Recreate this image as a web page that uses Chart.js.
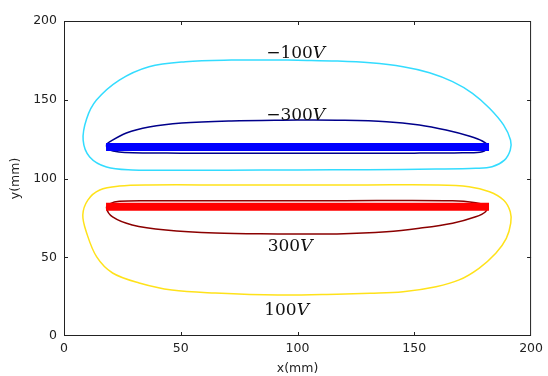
<!DOCTYPE html>
<html>
<head>
<meta charset="utf-8">
<script src="https://cdn.jsdelivr.net/npm/chart.js@4.4.1/dist/chart.umd.min.js"></script>
<style>
  html, body { margin: 0; padding: 0; background: #fff; }
  #wrap { width: 548px; height: 376px; }
</style>
</head>
<body>
<div id="wrap"><canvas id="fieldChart"></canvas></div>
<script>
// axis ticks
var xTicks = [0, 50, 100, 150, 200];
var yTicks = [0, 50, 100, 150, 200];

// electrodes (plates)
var plateX = [18, 182];
var bluePlateY = [120, 120];
var redPlateY = [82, 82];

// equipotential -100V
var m100X = [100, 91.5, 71.6, 52, 36.4, 23.7, 13.9, 9.7, 8.2, 11, 18.2, 29.2, 45, 70, 100, 130, 159.3, 176.3, 183.3, 188.6, 191.1, 191.2, 188.2, 182.2, 174.9, 166.4, 156.5, 145.2, 131.1, 116.9, 100];
var m100Y = [175.1, 175.2, 175.2, 174.2, 171.0, 162.5, 149.8, 138, 124.4, 113.7, 107.3, 105.4, 105.3, 105.3, 105.4, 105.6, 106.0, 106.5, 107.5, 111.7, 118.1, 124.4, 134.0, 144.6, 154.1, 161.5, 167.2, 171.0, 173.5, 174.6, 175.1];

// equipotential -300V
var m300X = [100, 71.6, 50.4, 36.4, 26.7, 19.5, 18.2, 18.8, 21, 26, 50, 80, 116.9, 150, 170.6, 179.1, 181.7, 179.1, 173.4, 163.6, 152.2, 138.1, 116.9, 100];
var m300Y = [137.1, 136.5, 135.2, 132.7, 128.9, 123.2, 121.3, 119, 117.5, 116.5, 116.1, 116.0, 116.0, 116.1, 116.4, 117.0, 120.2, 123.8, 127.0, 130.8, 134.0, 136.1, 137.0, 137.1];

// equipotential 100V
var p100X = [100, 70, 36.4, 23.7, 15.3, 10.2, 8.05, 9.7, 14, 20.8, 32.2, 46.2, 64.8, 91.5, 116.9, 131.1, 145.2, 159.3, 169.2, 177.7, 184.9, 189.4, 191.3, 191.1, 188.2, 182.2, 173.4, 159.3, 130, 100];
var p100Y = [95.9, 95.9, 95.9, 95.2, 92.7, 86.3, 76.8, 65.4, 50.2, 40, 33.7, 29.2, 27.3, 26.0, 26.5, 27.1, 28.1, 31.3, 35.6, 43.0, 52.5, 62.0, 71.6, 78.9, 86.3, 91.6, 94.8, 95.9, 95.9, 95.9];

// equipotential 300V
var p300X = [100, 91.5, 64.8, 43.6, 29.2, 20.8, 18.2, 19.8, 23.7, 35, 70, 116.9, 166.4, 176.3, 181.2, 180.5, 176.3, 166.4, 152.2, 138.1, 116.9, 100];
var p300Y = [64.8, 64.8, 65.4, 67.3, 70.5, 75.6, 81.3, 84, 85.5, 85.9, 85.9, 85.9, 85.9, 84.6, 82.5, 78.9, 75.7, 71.6, 68.4, 66.2, 64.8, 64.8];

// contour labels
var levelText = ['\u2212100', '\u2212300', '300', '100'];
var levelX = [99.2, 99.2, 96.8, 95.3];
var levelY = [176.5, 137.1, 54.2, 13.3];

function pts(xs, ys) {
    return xs.map(function (v, i) { return {x: v, y: ys[i]}; });
}

function contour(xs, ys, color) {
    return {
        data: pts(xs, ys),
        showLine: true,
        borderColor: color,
        borderWidth: 1.5,
        pointRadius: 0,
        tension: 0.35,
        fill: false
    };
}

function plate(ys, color) {
    return {
        data: pts(plateX, ys),
        showLine: true,
        borderColor: color,
        borderWidth: 8,
        borderCapStyle: 'butt',
        pointRadius: 0,
        tension: 0,
        fill: false
    };
}

var frameAndLabels = {
    id: 'frameAndLabels',
    afterDatasetsDraw: function (chart) {
        var ctx = chart.ctx;
        var a = chart.chartArea;
        var sx = chart.scales.x, sy = chart.scales.y;
        ctx.save();
        ctx.strokeStyle = '#222';
        ctx.lineWidth = 1;
        ctx.strokeRect(a.left + 0.5, a.top + 0.5, a.right - a.left - 1, a.bottom - a.top - 1);
        // inward ticks on all sides
        ctx.beginPath();
        xTicks.slice(1, -1).forEach(function (v) {
            var px = Math.round(sx.getPixelForValue(v)) + 0.5;
            ctx.moveTo(px, a.bottom); ctx.lineTo(px, a.bottom - 4);
            ctx.moveTo(px, a.top); ctx.lineTo(px, a.top + 4);
        });
        yTicks.slice(1, -1).forEach(function (v) {
            var py = Math.round(sy.getPixelForValue(v)) + 0.5;
            ctx.moveTo(a.left, py); ctx.lineTo(a.left + 4, py);
            ctx.moveTo(a.right, py); ctx.lineTo(a.right - 4, py);
        });
        ctx.stroke();

        // level labels: number upright, V italic
        ctx.fillStyle = '#111';
        ctx.textBaseline = 'alphabetic';
        ctx.textAlign = 'left';
        levelText.forEach(function (t, i) {
            var upright = '17px "DejaVu Serif"';
            var italic = 'italic 17px "DejaVu Serif"';
            ctx.font = upright;
            var w1 = ctx.measureText(t).width;
            ctx.font = italic;
            var w2 = ctx.measureText('V').width;
            var cx = sx.getPixelForValue(levelX[i]);
            var by = sy.getPixelForValue(levelY[i]);
            var x0 = cx - (w1 + w2) / 2;
            ctx.font = upright;
            ctx.fillText(t, x0, by);
            ctx.font = italic;
            ctx.fillText('V', x0 + w1, by);
        });
        ctx.restore();
    }
};

var tickFont = {family: 'DejaVu Sans', size: 12.5};

new Chart(document.getElementById('fieldChart'), {
    type: 'scatter',
    data: {
        datasets: [
            plate(bluePlateY, '#0000ff'),
            plate(redPlateY, '#ff0000'),
            contour(m300X, m300Y, '#00008b'),
            contour(m100X, m100Y, '#33dcff'),
            contour(p100X, p100Y, '#ffe21a'),
            contour(p300X, p300Y, '#8b0000')
        ]
    },
    options: {
        responsive: true,
        maintainAspectRatio: false,
        animation: false,
        layout: {padding: {left: 0, right: 12, top: 21, bottom: 0}},
        plugins: {legend: {display: false}, tooltip: {enabled: false}},
        scales: {
            x: {
                type: 'linear',
                min: 0, max: 200,
                afterFit: function (s) { s.height = 40; },
                afterBuildTicks: function (s) { s.ticks = xTicks.map(function (v) { return {value: v}; }); },
                grid: {display: false, drawTicks: false},
                border: {display: false},
                ticks: {font: tickFont, color: '#222', padding: 5, maxRotation: 0},
                title: {display: true, text: 'x(mm)', font: tickFont, color: '#222', padding: {top: -3, bottom: 0}}
            },
            y: {
                type: 'linear',
                min: 0, max: 200,
                afterFit: function (s) { s.width = 64; },
                afterBuildTicks: function (s) { s.ticks = yTicks.map(function (v) { return {value: v}; }); },
                grid: {display: false, drawTicks: false},
                border: {display: false},
                ticks: {font: tickFont, color: '#222', padding: 7},
                title: {display: true, text: 'y(mm)', font: tickFont, color: '#222', padding: {top: 8, bottom: 0}}
            }
        }
    },
    plugins: [frameAndLabels]
});
</script>
</body>
</html>
